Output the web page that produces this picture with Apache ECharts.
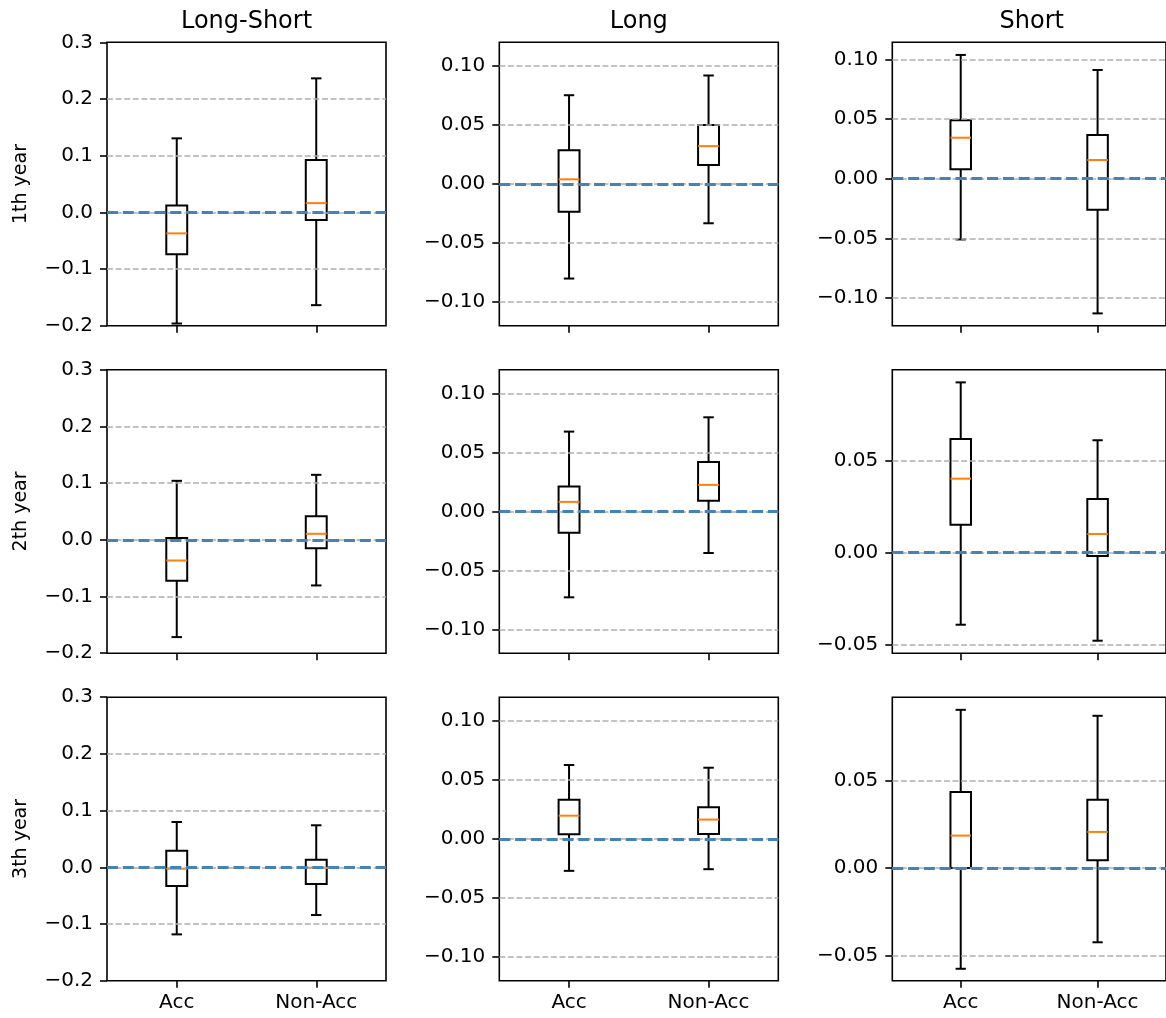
<!DOCTYPE html>
<html><head><meta charset="utf-8">
<script src="https://cdn.jsdelivr.net/npm/echarts@6/dist/echarts.min.js"></script>
<style>html,body{margin:0;padding:0;background:#fff}#c{width:1166px;height:1018px}</style>
</head><body><div id="c"></div>
<script>
// ---- data ----
const categories = ['Acc', 'Non-Acc'];
const colTitles = ['Long-Short', 'Long', 'Short'];
const rowLabels = ['1th year', '2th year', '3th year'];
// each box: [lower whisker, Q1, median, Q3, upper whisker]; first Acc, then Non-Acc
const longShort1 = [[-0.196, -0.0736, -0.037, 0.0123, 0.1306], [-0.1636, -0.0136, 0.0164, 0.0923, 0.2364]];
const long1      = [[-0.080, -0.0234, 0.004, 0.0287, 0.0752], [-0.0332, 0.0161, 0.0321, 0.0499, 0.0919]];
const short1     = [[-0.0509, 0.0079, 0.0344, 0.049, 0.1038], [-0.1129, -0.026, 0.0157, 0.0367, 0.0912]];
const longShort2 = [[-0.1716, -0.0723, -0.0365, 0.003, 0.104], [-0.0805, -0.0147, 0.0106, 0.0417, 0.1146]];
const long2      = [[-0.0727, -0.0181, 0.0081, 0.0211, 0.0676], [-0.0352, 0.009, 0.0225, 0.0419, 0.0797]];
const short2     = [[-0.0392, 0.0152, 0.0403, 0.0619, 0.0927], [-0.0479, -0.0018, 0.0102, 0.0292, 0.0612]];
const longShort3 = [[-0.1183, -0.033, -0.0025, 0.0293, 0.0799], [-0.0842, -0.0295, -0.0007, 0.0134, 0.0741]];
const long3      = [[-0.027, 0.004, 0.0197, 0.0332, 0.0626], [-0.0256, 0.0042, 0.0164, 0.0268, 0.0603]];
const short3     = [[-0.0573, 0.0002, 0.0186, 0.0435, 0.0903], [-0.0422, 0.0046, 0.0207, 0.039, 0.0869]];
// axis limits and tick values
const limitsLongShort = [-0.2, 0.3];
const limitsLong = [-0.12, 0.12];
const limitsShort1 = [-0.1233, 0.1144];
const limitsShort2 = [-0.0547, 0.0996];
const limitsShort3 = [-0.0641, 0.0975];
const ticksLongShort = [-0.2, -0.1, 0.0, 0.1, 0.2, 0.3];
const ticksWide = [-0.10, -0.05, 0.0, 0.05, 0.10];
const ticksNarrow = [-0.05, 0.0, 0.05];
const zeroLine = [0];

const panels = [
  [longShort1, limitsLongShort, ticksLongShort, 1], [long1, limitsLong, ticksWide, 2], [short1, limitsShort1, ticksWide, 2],
  [longShort2, limitsLongShort, ticksLongShort, 1], [long2, limitsLong, ticksWide, 2], [short2, limitsShort2, ticksNarrow, 2],
  [longShort3, limitsLongShort, ticksLongShort, 1], [long3, limitsLong, ticksWide, 2], [short3, limitsShort3, ticksNarrow, 2]
];

// ---- layout ----
const lefts = [107, 499.3, 892.3];
const tops = [42.3, 369.7, 697.2];
const W = 279, H = 283.5;
const FONT = 'DejaVu Sans';
const fmtMinus = s => s.replace('-', '\u2212');

const grids = [], xAxes = [], yAxes = [], series = [], graphics = [];
panels.forEach((p, i) => {
  const r = Math.floor(i / 3), c = i % 3;
  const [boxes, lim, ticks, dec] = p;
  grids.push({left: lefts[c], top: tops[r], width: W, height: H, show: true,
    borderColor: '#000', borderWidth: 1.6, backgroundColor: 'transparent', containLabel: false});
  xAxes.push({type: 'category', gridIndex: i, data: categories, boundaryGap: true, position: 'bottom',
    axisLine: {show: false, onZero: false},
    axisTick: {show: true, alignWithLabel: true, length: 7, lineStyle: {color: '#000', width: 1.6}},
    axisLabel: {show: r === 2, fontFamily: FONT, fontSize: 20, color: '#000', margin: 12},
    splitLine: {show: false}});
  yAxes.push({type: 'value', gridIndex: i, min: lim[0], max: lim[1],
    axisLine: {show: false, onZero: false},
    axisTick: {show: true, length: 7, lineStyle: {color: '#000', width: 1.6}, customValues: ticks},
    axisLabel: {show: true, fontFamily: FONT, fontSize: 20, color: '#000', margin: 14,
      customValues: ticks, formatter: v => fmtMinus(Number(v).toFixed(dec))},
    splitLine: {show: false}});
  // gray dashed grid lines (inside the frame only)
  series.push({type: 'line', xAxisIndex: i, yAxisIndex: i, data: [], z: 1, silent: true,
    markLine: {symbol: 'none', silent: true, animation: false, label: {show: false},
      lineStyle: {color: '#b0b0b0', width: 1.6, type: [6, 2.6]},
      emphasis: {disabled: true},
      data: ticks.filter(v => v > lim[0] + 1e-9 && v < lim[1] - 1e-9).map(v => ({yAxis: v}))}});
  // boxes
  series.push({type: 'custom', xAxisIndex: i, yAxisIndex: i, z: 2, silent: true,
    data: boxes.map((b, k) => [k, b[0], b[1], b[2], b[3], b[4]]),
    encode: {x: 0, y: [1, 2, 3, 4, 5]},
    renderItem: (params, api) => {
      const k = api.value(0);
      const lo = api.coord([k, api.value(1)]);
      const q1 = api.coord([k, api.value(2)]);
      const md = api.coord([k, api.value(3)]);
      const q3 = api.coord([k, api.value(4)]);
      const hi = api.coord([k, api.value(5)]);
      const band = api.size([1, 0])[0];
      const bw = band * 0.15, cw = bw / 2, cx = lo[0];
      const st = {stroke: '#000', lineWidth: 2, fill: null};
      return {type: 'group', children: [
        {type: 'line', shape: {x1: cx, y1: lo[1], x2: cx, y2: q1[1]}, style: st},
        {type: 'line', shape: {x1: cx, y1: q3[1], x2: cx, y2: hi[1]}, style: st},
        {type: 'line', shape: {x1: cx - cw / 2, y1: lo[1], x2: cx + cw / 2, y2: lo[1]}, style: st},
        {type: 'line', shape: {x1: cx - cw / 2, y1: hi[1], x2: cx + cw / 2, y2: hi[1]}, style: st},
        {type: 'rect', shape: {x: cx - bw / 2, y: q3[1], width: bw, height: q1[1] - q3[1]}, style: {stroke: '#000', lineWidth: 2, fill: 'none'}},
        {type: 'line', shape: {x1: cx - bw / 2, y1: md[1], x2: cx + bw / 2, y2: md[1]}, style: {stroke: '#ff7f0e', lineWidth: 2}}
      ]};
    }});
  // blue zero line
  series.push({type: 'line', xAxisIndex: i, yAxisIndex: i, data: [], z: 3, silent: true,
    markLine: {symbol: 'none', silent: true, animation: false, label: {show: false},
      lineStyle: {color: '#4682b4', width: 3, type: [11, 4.8]},
      emphasis: {disabled: true},
      data: zeroLine.map(v => ({yAxis: v}))}});
});

colTitles.forEach((t, c) => {
  graphics.push({type: 'text', x: lefts[c] + W / 2, y: 22,
    style: {text: t, fontFamily: FONT, fontSize: 24, fill: '#000', textAlign: 'center', textVerticalAlign: 'middle'}});
});
rowLabels.forEach((t, r) => {
  graphics.push({type: 'text', x: 21, y: tops[r] + H / 2, rotation: Math.PI / 2,
    style: {text: t, fontFamily: FONT, fontSize: 19, fill: '#000', textAlign: 'center', textVerticalAlign: 'middle'}});
});

const chart = echarts.init(document.getElementById('c'), null, {renderer: 'canvas'});
chart.setOption({
  animation: false,
  backgroundColor: '#fff',
  grid: grids, xAxis: xAxes, yAxis: yAxes, series: series, graphic: graphics
});
</script></body></html>
